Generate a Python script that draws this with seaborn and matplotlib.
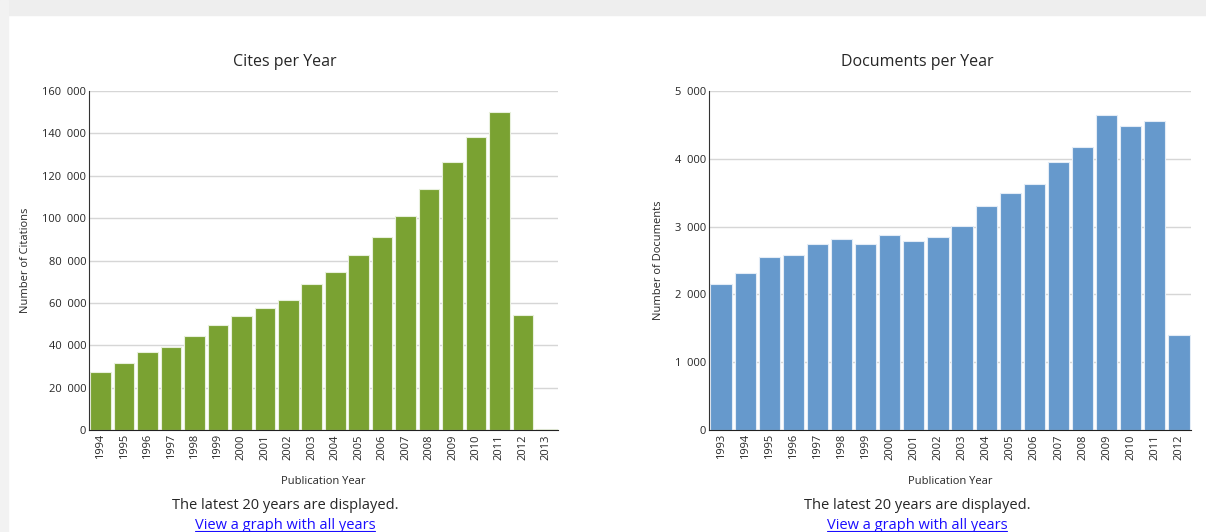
import matplotlib
matplotlib.use("Agg")
import matplotlib.pyplot as plt
import matplotlib.ticker as mticker
from matplotlib.patches import Rectangle
from matplotlib.lines import Line2D
import seaborn as sns

# data
cite_years = [str(y) for y in range(1994, 2014)]
cites = [27200, 31600, 36700, 39300, 44400, 49400, 53800, 57600, 61500, 68800,
         74700, 82600, 90900, 100800, 113600, 126300, 138400, 150100, 54300, 300]

doc_years = [str(y) for y in range(1993, 2013)]
docs = [2150, 2320, 2547, 2581, 2739, 2822, 2739, 2871, 2783, 2842,
        3014, 3304, 3496, 3633, 3948, 4174, 4646, 4484, 4553, 1401]

sns.set_style("white")
plt.rcParams["font.family"] = ["Open Sans", "DejaVu Sans"]

fig = plt.figure(figsize=(12.06, 5.32), dpi=100)

# card shadow around the panel
fig.patches.append(Rectangle((0, 0.972), 1, 0.028, transform=fig.transFigure,
                             color="#eeeeee", zorder=0))
fig.patches.append(Rectangle((0, 0), 0.007, 1, transform=fig.transFigure,
                             color="#f2f2f2", zorder=0))

ax1 = fig.add_axes([0.0738, 0.1917, 0.3889, 0.6372])
ax2 = fig.add_axes([0.5879, 0.1917, 0.3997, 0.6372])


def space_thousands(v, pos):
    return f"{int(v):,}".replace(",", "  ")


def style(ax, years, values, color, ymax, step, ylabel):
    sns.barplot(x=years, y=values, color=color, width=0.88, saturation=1,
                edgecolor="#e8f0dc" if color == "#7aa232" else "#e3ecf6",
                linewidth=0.8, ax=ax)
    ax.set_xlim(-0.5, len(years) - 0.5)
    ax.set_ylim(0, ymax)
    ax.yaxis.set_major_locator(mticker.MultipleLocator(step))
    ax.yaxis.set_major_formatter(mticker.FuncFormatter(space_thousands))
    ax.grid(axis="y", color="#d6d6d6", linewidth=1)
    ax.set_axisbelow(True)
    for s in ["top", "right"]:
        ax.spines[s].set_visible(False)
    ax.spines["left"].set_color("#333333")
    ax.spines["bottom"].set_color("#222222")
    ax.tick_params(axis="x", rotation=90, labelsize=8, length=0, pad=3)
    ax.tick_params(axis="y", labelsize=8, length=0, pad=2)
    ax.xaxis.set_minor_locator(mticker.FixedLocator(
        [i + 0.5 for i in range(len(years) - 1)]))
    ax.tick_params(axis="x", which="minor", length=3, width=1, color="#111111",
                   direction="out")
    ax.set_xlabel("Publication Year", fontsize=8, labelpad=12)
    ax.set_ylabel(ylabel, fontsize=8, labelpad=8)


style(ax1, cite_years, cites, "#7aa232", 160000, 20000, "Number of Citations")
style(ax2, doc_years, docs, "#6699cc", 5000, 1000, "Number of Documents")

centers = [285 / 1206, 917 / 1206]
for cx, title in zip(centers, ["Cites per Year", "Documents per Year"]):
    fig.text(cx, 0.884, title, ha="center", va="center", fontsize=11.5)
    fig.text(cx, 0.050, "The latest 20 years are displayed.", ha="center",
             va="center", fontsize=10.5)
    fig.text(cx, 0.012, "View a graph with all years", ha="center",
             va="center", fontsize=10.5, color="#1a0dff")

# underline the links
fig.canvas.draw()
renderer = fig.canvas.get_renderer()
for t in fig.texts:
    if t.get_text().startswith("View"):
        bb = t.get_window_extent(renderer).transformed(fig.transFigure.inverted())
        fig.lines.append(Line2D([bb.x0, bb.x1], [bb.y0 + 0.004, bb.y0 + 0.004],
                                transform=fig.transFigure, color="#1a0dff",
                                linewidth=0.8))

fig.savefig("out.png", dpi=100)
